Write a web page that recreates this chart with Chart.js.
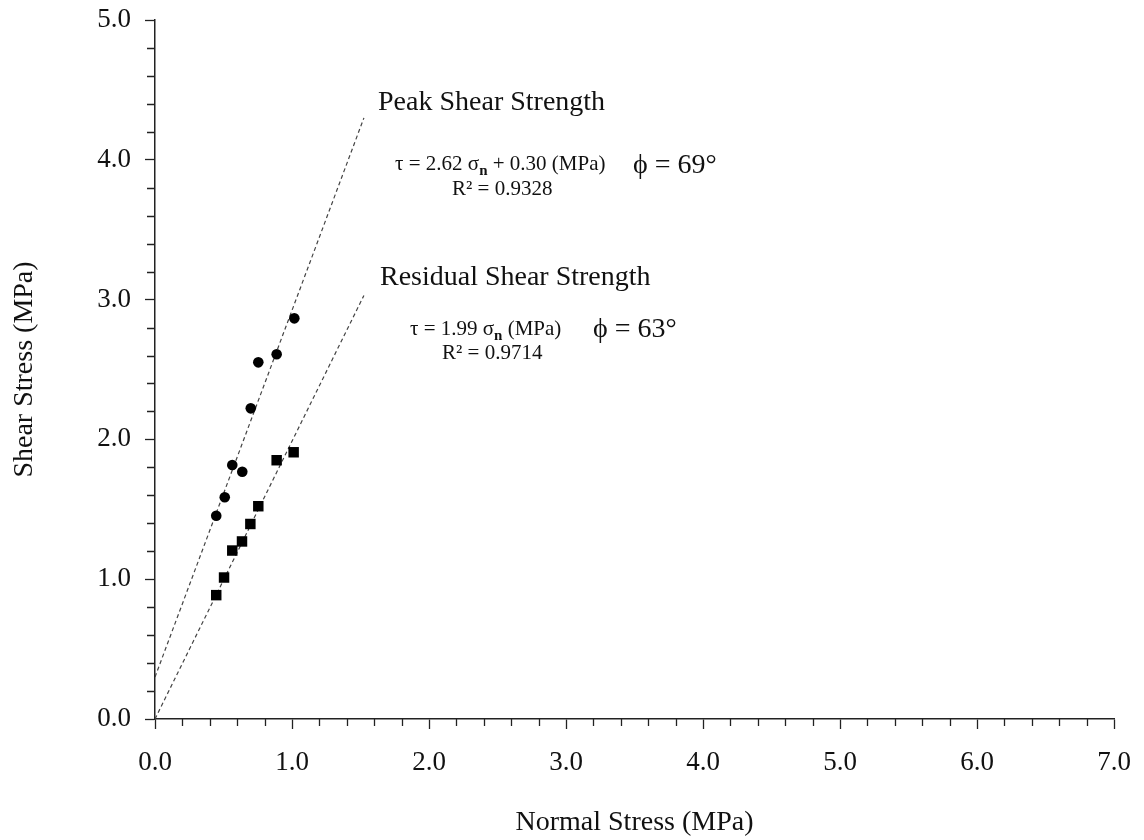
<!DOCTYPE html>
<html>
<head>
<meta charset="utf-8">
<script src="https://cdn.jsdelivr.net/npm/chart.js@4.4.1/dist/chart.umd.min.js"></script>
<style>
  html, body { margin: 0; padding: 0; background: #ffffff; }
  #wrap { width: 1144px; height: 840px; }
</style>
</head>
<body>
<div id="wrap"><canvas id="c" width="1144" height="840"></canvas></div>
<script>
// ---- data ----
const normalStress = [0.447, 0.509, 0.564, 0.637, 0.699, 0.754, 0.888, 1.017];
const peakShear    = [1.454, 1.586, 1.817, 1.769, 2.222, 2.551, 2.609, 2.866];
const residualX    = [0.447, 0.504, 0.564, 0.635, 0.696, 0.754, 0.888, 1.012];
const residualShear= [0.886, 1.012, 1.205, 1.270, 1.395, 1.522, 1.851, 1.908];
const trendX       = [0, 1.525];
const peakTrendY   = [0.30, 4.30];
const resTrendY    = [0.00, 3.03];
const xTickLabels  = ['0.0','1.0','2.0','3.0','4.0','5.0','6.0','7.0'];
const yTickLabels  = ['0.0','1.0','2.0','3.0','4.0','5.0'];
const xTitle = 'Normal Stress (MPa)';
const yTitle = 'Shear Stress (MPa)';

const SERIF = '"Liberation Serif", "Times New Roman", "DejaVu Serif", serif';

const toPts = (xs, ys) => xs.map((x, i) => ({ x: x, y: ys[i] }));

// text annotations (anchored in data coordinates)
const notes = [
  { x: 1.628, y: 4.406, size: 28, parts: [{ t: 'Peak Shear Strength' }] },
  { x: 1.752, y: 3.963, size: 21, parts: [{ t: 'τ = 2.62 σ' }, { t: 'n', sub: true }, { t: ' + 0.30 (MPa)' }] },
  { x: 2.168, y: 3.791, size: 21, parts: [{ t: 'R² = 0.9328' }] },
  { x: 3.489, y: 3.956, size: 28, parts: [{ t: 'ϕ = 69°' }] },
  { x: 1.642, y: 3.155, size: 28, parts: [{ t: 'Residual Shear Strength' }] },
  { x: 1.861, y: 2.783, size: 21, parts: [{ t: 'τ = 1.99 σ' }, { t: 'n', sub: true }, { t: ' (MPa)' }] },
  { x: 2.095, y: 2.611, size: 21, parts: [{ t: 'R² = 0.9714' }] },
  { x: 3.197, y: 2.783, size: 28, parts: [{ t: 'ϕ = 63°' }] }
];

const notesPlugin = {
  id: 'notes',
  afterDatasetsDraw(chart) {
    const ctx = chart.ctx, xs = chart.scales.x, ys = chart.scales.y;
    ctx.save();
    ctx.fillStyle = '#111';
    ctx.textBaseline = 'middle';
    ctx.textAlign = 'left';
    notes.forEach(n => {
      let px = xs.getPixelForValue(n.x);
      const py = ys.getPixelForValue(n.y);
      n.parts.forEach(p => {
        if (p.sub) {
          ctx.font = 'bold ' + Math.round(n.size * 0.7) + 'px ' + SERIF;
          ctx.fillText(p.t, px, py + n.size * 0.28);
        } else {
          ctx.font = n.size + 'px ' + SERIF;
          ctx.fillText(p.t, px, py);
        }
        px += ctx.measureText(p.t).width;
      });
    });
    ctx.restore();
  }
};

// minor tick marks every 0.2 on both axes
const minorTicks = {
  id: 'minorTicks',
  afterDraw(chart) {
    const ctx = chart.ctx, xs = chart.scales.x, ys = chart.scales.y;
    const a = chart.chartArea;
    ctx.save();
    ctx.strokeStyle = '#222';
    ctx.lineWidth = 1.3;
    ctx.beginPath();
    for (let i = 1; i < 35; i++) {
      if (i % 5 === 0) continue;
      const px = Math.round(xs.getPixelForValue(i * 0.2)) + 0.5;
      ctx.moveTo(px, a.bottom);
      ctx.lineTo(px, a.bottom + 7);
    }
    for (let i = 1; i < 25; i++) {
      if (i % 5 === 0) continue;
      const py = Math.round(ys.getPixelForValue(i * 0.2)) + 0.5;
      ctx.moveTo(a.left, py);
      ctx.lineTo(a.left - 8, py);
    }
    ctx.stroke();
    ctx.restore();
  }
};

new Chart(document.getElementById('c'), {
  type: 'scatter',
  data: {
    datasets: [
      {
        label: 'Peak',
        data: toPts(normalStress, peakShear),
        pointStyle: 'circle',
        pointRadius: 5.3,
        pointHoverRadius: 5.3,
        backgroundColor: '#000',
        borderColor: '#000',
        borderWidth: 0,
        showLine: false
      },
      {
        label: 'Residual',
        data: toPts(residualX, residualShear),
        pointStyle: 'rect',
        pointRadius: 7.4,
        pointHoverRadius: 7.4,
        backgroundColor: '#000',
        borderColor: '#000',
        borderWidth: 0,
        showLine: false
      },
      {
        label: 'Peak trend',
        data: toPts(trendX, peakTrendY),
        showLine: true,
        pointRadius: 0,
        borderColor: '#444',
        borderWidth: 1.2,
        borderDash: [4, 3],
        fill: false
      },
      {
        label: 'Residual trend',
        data: toPts(trendX, resTrendY),
        showLine: true,
        pointRadius: 0,
        borderColor: '#444',
        borderWidth: 1.2,
        borderDash: [4, 3],
        fill: false
      }
    ]
  },
  options: {
    responsive: false,
    animation: false,
    devicePixelRatio: 1,
    layout: { padding: { top: 20, right: 30, left: 0, bottom: 0 } },
    plugins: {
      legend: { display: false },
      tooltip: { enabled: false }
    },
    scales: {
      x: {
        type: 'linear',
        min: 0, max: 7,
        afterFit(s) { s.height = 121; s.paddingLeft = 0; s.paddingRight = 0; },
        ticks: {
          stepSize: 1,
          padding: 18,
          color: '#111',
          font: { family: SERIF, size: 27 },
          callback: (v) => xTickLabels[Math.round(v)] ?? ''
        },
        grid: { drawOnChartArea: false, drawTicks: true, tickLength: 10, tickColor: '#222', tickWidth: 1.3 },
        border: { display: true, color: '#222', width: 1.5 },
        title: { display: true, text: xTitle, color: '#111', font: { family: SERIF, size: 28 }, padding: { top: 0, bottom: 1 } }
      },
      y: {
        type: 'linear',
        min: 0, max: 5,
        afterFit(s) { s.width = 155; s.paddingTop = 0; s.paddingBottom = 0; },
        ticks: {
          stepSize: 1,
          padding: 14,
          color: '#111',
          font: { family: SERIF, size: 27 },
          callback: (v) => yTickLabels[Math.round(v)] ?? ''
        },
        grid: { drawOnChartArea: false, drawTicks: true, tickLength: 10, tickColor: '#222', tickWidth: 1.3 },
        border: { display: true, color: '#222', width: 1.5 },
        title: { display: true, text: yTitle, color: '#111', font: { family: SERIF, size: 28 }, padding: { top: 8, bottom: 0 } }
      }
    }
  },
  plugins: [notesPlugin, minorTicks]
});
</script>
</body>
</html>
